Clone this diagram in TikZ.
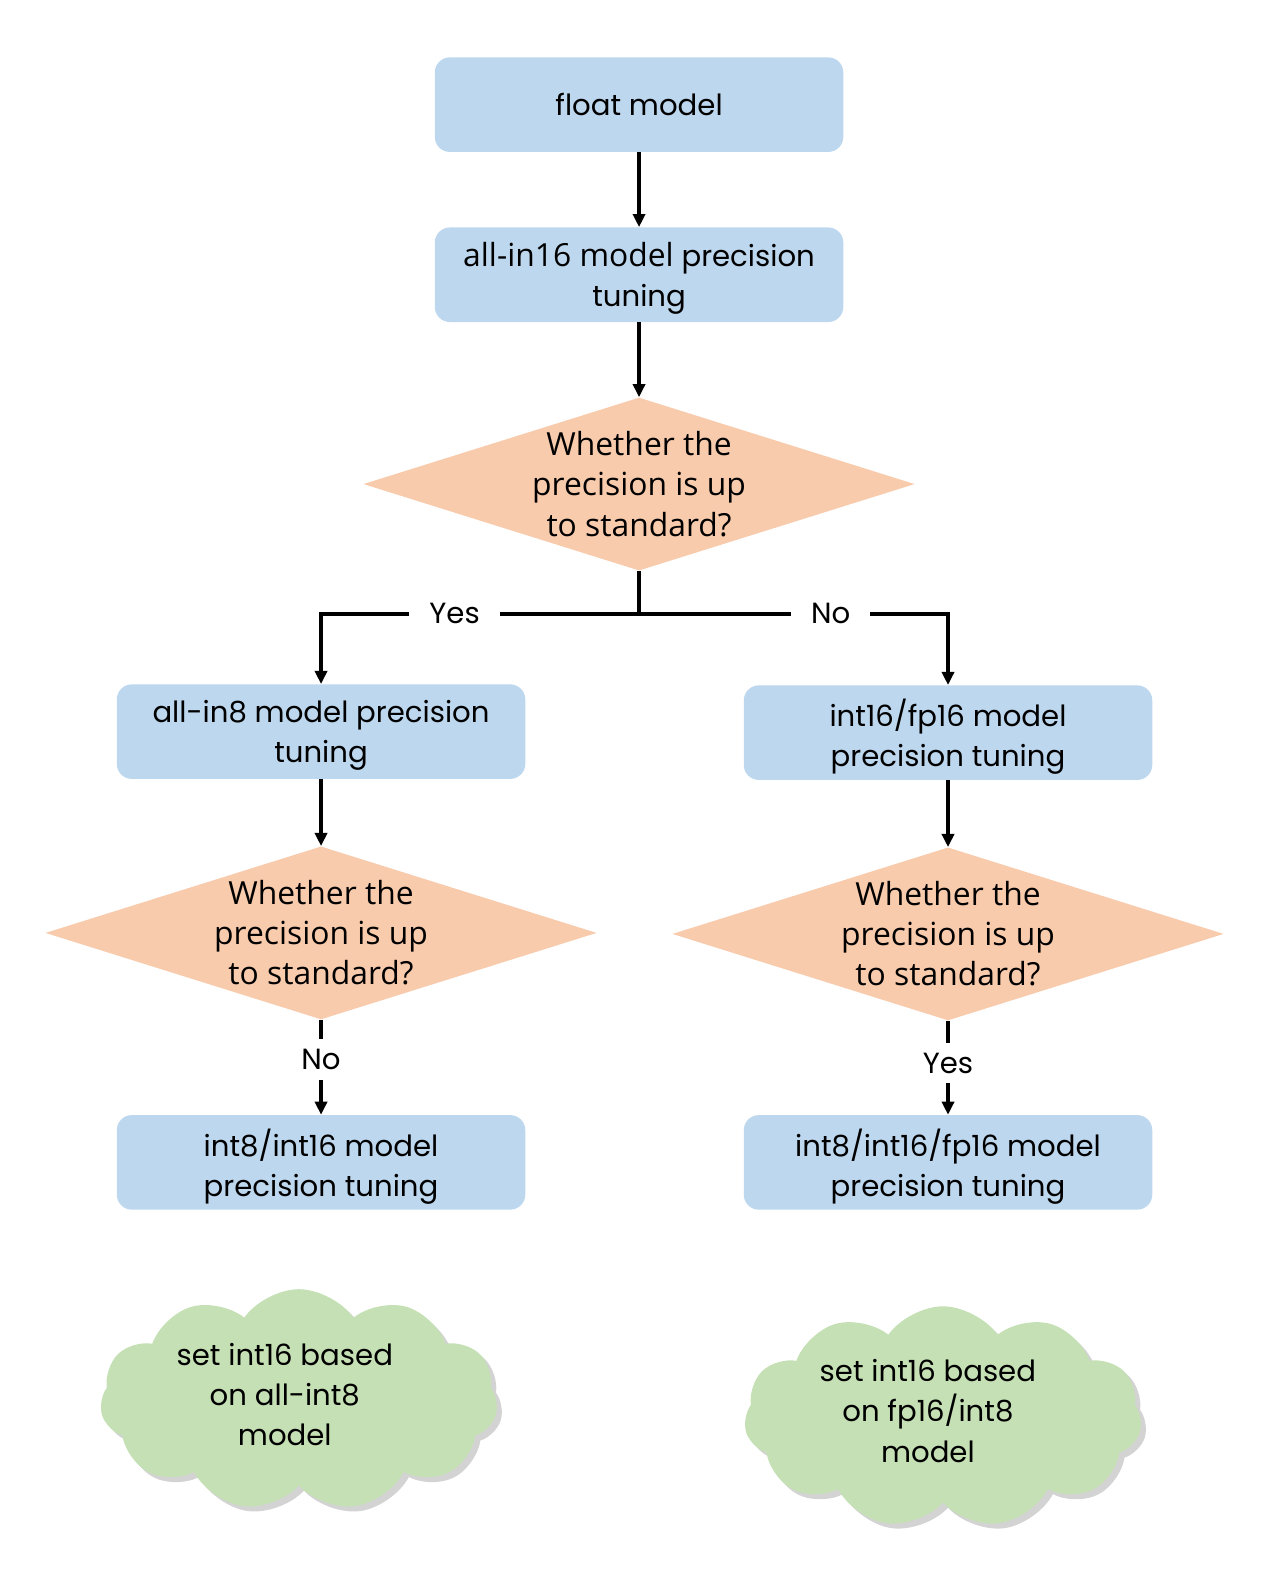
\documentclass[tikz,border=0pt]{standalone}
\usepackage{fontspec}
\setmainfont{Poppins}
\newfontfamily\opensans{Open Sans}
\usetikzlibrary{shapes.geometric,shapes.symbols,shadows,arrows.meta,positioning}
\definecolor{boxblue}{RGB}{189,215,238}
\definecolor{diapeach}{RGB}{248,203,173}
\definecolor{cloudgreen}{RGB}{197,224,180}

\begin{document}
\begin{tikzpicture}[x=0.02cm,y=-0.02cm,
  stage/.style={rectangle,rounded corners=0.3cm,fill=boxblue,minimum width=8.12cm,
    minimum height=1.88cm,align=center,text depth=0pt,font=\fontsize{16.5}{22.7}\selectfont},
  decision/.style={diamond,fill=diapeach,minimum width=10.96cm,minimum height=3.44cm,inner sep=0pt},
  asktext/.style={align=center,font=\opensans\fontsize{18}{22.7}\selectfont},
  note/.style={cloud,cloud puffs=11,cloud puff arc=110,fill=cloudgreen,minimum width=7.9cm,
    minimum height=4.4cm,drop shadow={shadow xshift=0.1cm,shadow yshift=-0.1cm,opacity=0.35}},
  notetext/.style={align=center,font=\fontsize{16.5}{22.7}\selectfont},
  link/.style={line width=2.3pt},
  flow/.style={link,-{Triangle[width=0.24cm,length=0.26cm]}},
  tag/.style={fill=white,inner xsep=0.4cm,inner ysep=0.2cm,font=\fontsize{16.5}{20}\selectfont}
]
\useasboundingbox (0,0) rectangle (1261,1568);

% boxes
\node[stage] (b1) at (635,104) {float model};
\node[stage] (b2) at (635,273) {{\opensans\fontsize{18}{22.7}\selectfont all-in16 model} precision\\tuning};
\node[stage] (b3) at (319,727) {all-in8 model precision\\tuning};
\node[stage] (b4) at (942,728) {int16/fp16 model\\precision tuning};
\node[stage] (b5) at (319,1155) {int8/int16 model\\precision tuning};
\node[stage] (b6) at (942,1155) {int8/int16/fp16 model\\precision tuning};

% decisions
\node[decision] (d1) at (635,481) {};
\node[asktext] at (d1) {Whether the\\precision is up\\to standard?};
\node[decision] (d2) at (319,927) {};
\node[asktext] at (d2) {Whether the\\precision is up\\to standard?};
\node[decision] (d3) at (942,928) {};
\node[asktext] at (d3) {Whether the\\precision is up\\to standard?};

% clouds
\node[note] (c1) at (297,1391) {};
\node[notetext] at (283,1386) {set int16 based\\on all-int8\\model};
\node[note] (c2) at (937,1408) {};
\node[notetext] at (922,1402) {set int16 based\\on fp16/int8\\model};

% connectors
\coordinate (fork) at (635,610);
\draw[flow] (b1) -- (b2);
\draw[flow] (b2) -- (d1);
\draw[link] (d1.south) -- (fork);
\draw[flow] (fork) -| node[tag,pos=0.29] {Yes} (b3.north);
\draw[flow] (fork) -| node[tag,pos=0.31] {No} (b4.north);
\draw[flow] (b3) -- (d2);
\draw[flow] (b4) -- (d3);
\draw[flow] (d2) -- node[tag,pos=0.42] {No} (b5);
\draw[flow] (d3) -- node[tag,pos=0.45] {Yes} (b6);

\end{tikzpicture}
\end{document}
